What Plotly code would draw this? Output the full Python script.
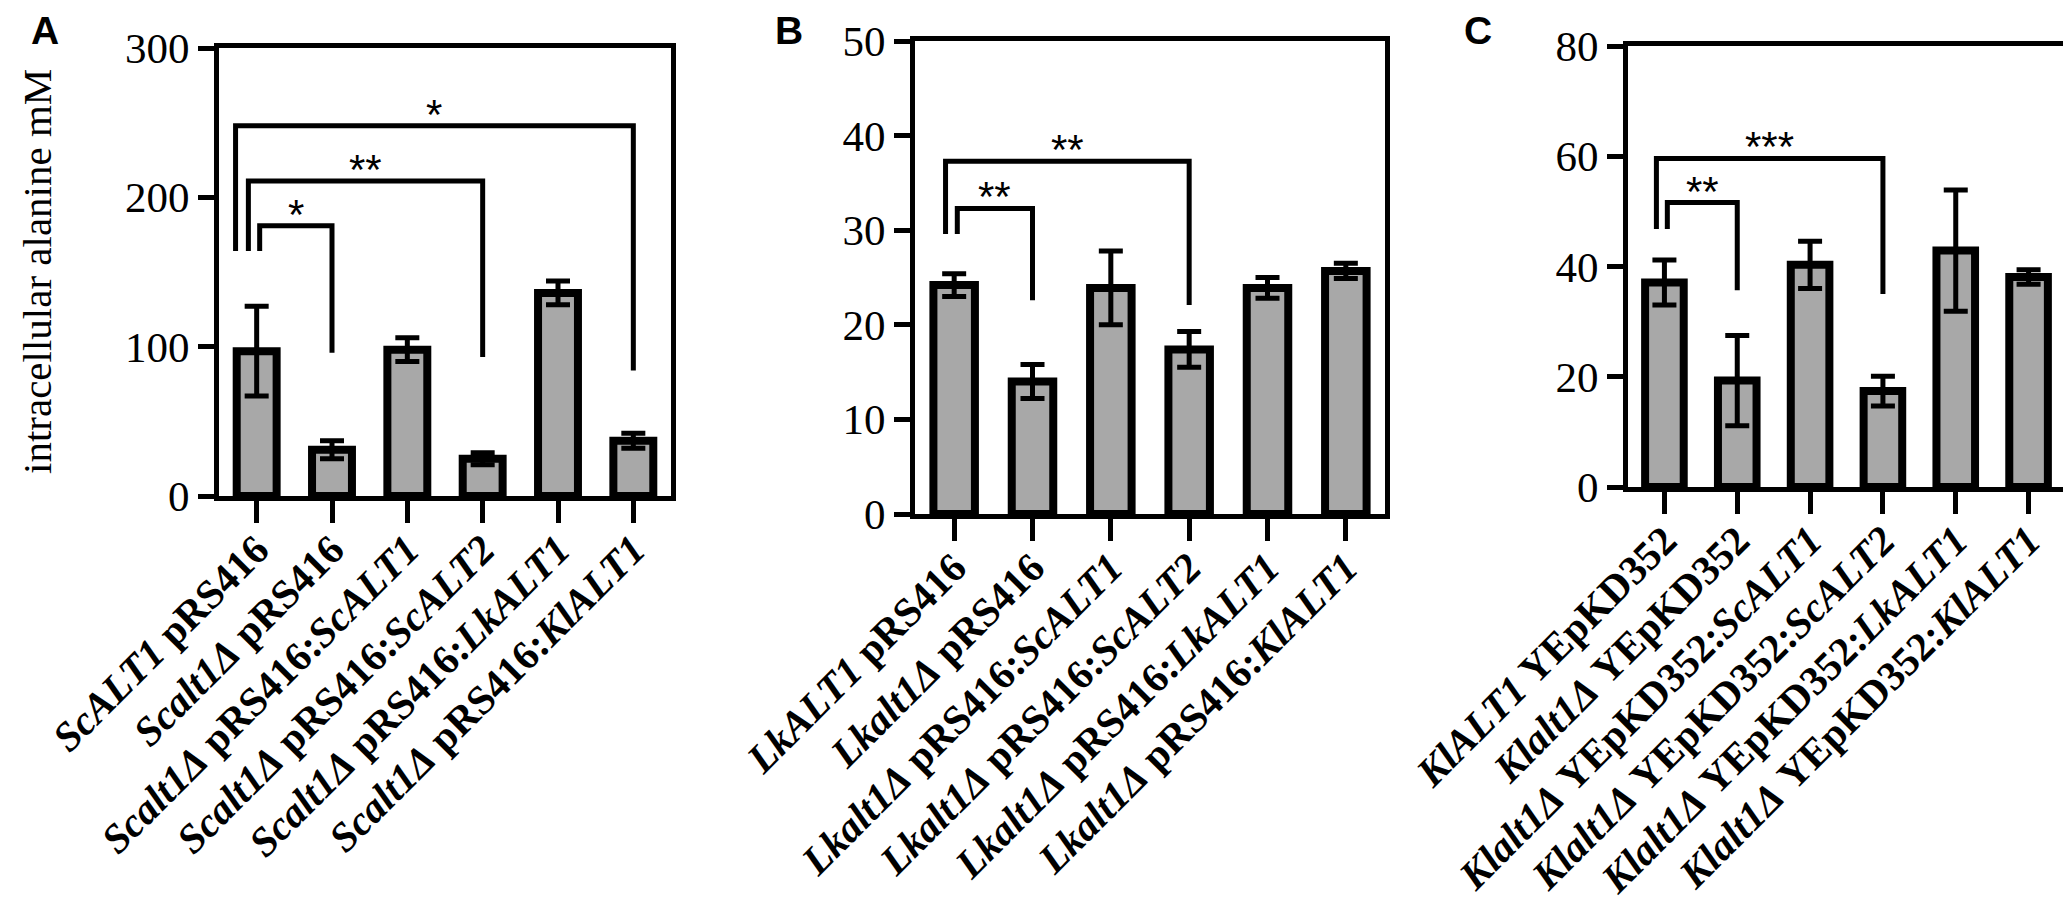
import plotly.graph_objects as go

W, H = 2071, 916

# ---- data ----
a_labels = ["<b><i>ScALT1</i> pRS416</b>",
            "<b><i>Scalt1Δ</i> pRS416</b>",
            "<b><i>Scalt1Δ</i> pRS416:<i>ScALT1</i></b>",
            "<b><i>Scalt1Δ</i> pRS416:<i>ScALT2</i></b>",
            "<b><i>Scalt1Δ</i> pRS416:<i>LkALT1</i></b>",
            "<b><i>Scalt1Δ</i> pRS416:<i>KlALT1</i></b>"]
a_means = [97, 31, 98, 25, 136, 37]
a_err = [30, 6, 8, 4, 8, 5]

b_labels = ["<b><i>LkALT1</i> pRS416</b>",
            "<b><i>Lkalt1Δ</i> pRS416</b>",
            "<b><i>Lkalt1Δ</i> pRS416:<i>ScALT1</i></b>",
            "<b><i>Lkalt1Δ</i> pRS416:<i>ScALT2</i></b>",
            "<b><i>Lkalt1Δ</i> pRS416:<i>LkALT1</i></b>",
            "<b><i>Lkalt1Δ</i> pRS416:<i>KlALT1</i></b>"]
b_means = [24.2, 14.0, 23.9, 17.4, 23.9, 25.7]
b_err = [1.2, 1.8, 3.9, 1.9, 1.1, 0.8]

c_labels = ["<b><i>KlALT1</i> YEpKD352</b>",
            "<b><i>Klalt1Δ</i> YEpKD352</b>",
            "<b><i>Klalt1Δ</i> YEpKD352:<i>ScALT1</i></b>",
            "<b><i>Klalt1Δ</i> YEpKD352:<i>ScALT2</i></b>",
            "<b><i>Klalt1Δ</i> YEpKD352:<i>LkALT1</i></b>",
            "<b><i>Klalt1Δ</i> YEpKD352:<i>KlALT1</i></b>"]
c_means = [37.1, 19.3, 40.3, 17.4, 42.9, 38.1]
c_err = [4.1, 8.2, 4.3, 2.7, 11.0, 1.3]

# significance brackets: compared groups, bracket height, leg ends, stars
a_sig_right = [1, 3, 5]
a_sig_top = [181, 211, 248]
a_sig_left_end = [164, 164, 164]
a_sig_right_end = [96, 93, 84]
a_sig_text = ["*", "**", "*"]

b_sig_right = [1, 3]
b_sig_top = [32.3, 37.3]
b_sig_left_end = [29.6, 29.6]
b_sig_right_end = [22.6, 22.1]
b_sig_text = ["**", "**"]

c_sig_right = [1, 3]
c_sig_top = [51.6, 59.6]
c_sig_left_end = [46.8, 46.8]
c_sig_right_end = [35.7, 35.0]
c_sig_text = ["**", "***"]

# ---- layout helpers (pixel boxes of each plot area) ----
panels = [
    dict(letter="A", labels=a_labels, means=a_means, err=a_err,
         sig=(a_sig_right, a_sig_top, a_sig_left_end, a_sig_right_end, a_sig_text),
         ymax=300, dtick=100, box=(211, 663, 40, 488), letter_xy=(37, 23)),
    dict(letter="B", labels=b_labels, means=b_means, err=b_err,
         sig=(b_sig_right, b_sig_top, b_sig_left_end, b_sig_right_end, b_sig_text),
         ymax=50, dtick=10, box=(907, 1377, 33, 506), letter_xy=(781, 23)),
    dict(letter="C", labels=c_labels, means=c_means, err=c_err,
         sig=(c_sig_right, c_sig_top, c_sig_left_end, c_sig_right_end, c_sig_text),
         ymax=80, dtick=20, box=(1620, 2057, 38, 479), letter_xy=(1470, 23)),
]

leg_shift = [0.04, -0.11, -0.28]
serif = "Liberation Serif, Times New Roman, serif"
sans = "Liberation Sans, Arial, sans-serif"

fig = go.Figure()
layout = dict(width=W, height=H, margin=dict(l=0, r=0, t=0, b=0),
              paper_bgcolor="white", plot_bgcolor="white", showlegend=False)
annotations = []

for i, p in enumerate(panels, start=1):
    xa = "x" if i == 1 else f"x{i}"
    ya = "y" if i == 1 else f"y{i}"
    n = len(p["means"])
    x0, x1, y0, y1 = p["box"]

    fig.add_trace(go.Bar(
        x=list(range(n)), y=p["means"], xaxis=xa, yaxis=ya, width=0.53,
        marker=dict(color="#a8a8a8", line=dict(color="black", width=8)),
        error_y=dict(type="data", array=p["err"], visible=True,
                     color="black", thickness=5, width=12),
        hoverinfo="skip"))

    rights, tops, lends, rends, texts = p["sig"]
    for k in range(len(rights)):
        lx = 0 + leg_shift[k]
        rx = rights[k]
        fig.add_trace(go.Scatter(
            x=[lx, lx, rx, rx], y=[lends[k], tops[k], tops[k], rends[k]],
            mode="lines", line=dict(color="black", width=5),
            xaxis=xa, yaxis=ya, hoverinfo="skip"))
        annotations.append(dict(
            x=(lx + rx) / 2, y=tops[k], xref=xa, yref=ya, text=texts[k],
            showarrow=False, yanchor="bottom", yshift=-14,
            font=dict(family=sans, size=42, color="black")))

    key = "" if i == 1 else str(i)
    layout["xaxis" + key] = dict(
        domain=[x0 / W, x1 / W], anchor=ya, range=[-0.5, n - 0.5],
        automargin=False,
        showline=True, linewidth=5, linecolor="black", mirror=True,
        ticks="outside", ticklen=22, tickwidth=5, tickcolor="black",
        tickvals=list(range(n)), ticktext=p["labels"], tickangle=-45,
        ticklabelstandoff=-14,
        tickfont=dict(family=serif, size=41, color="black"),
        showgrid=False, zeroline=False, fixedrange=True)
    layout["yaxis" + key] = dict(
        domain=[1 - y1 / H, 1 - y0 / H], anchor=xa, range=[0, p["ymax"]],
        automargin=False,
        dtick=p["dtick"], showline=True, linewidth=5, linecolor="black",
        mirror=True, ticks="outside", ticklen=16, tickwidth=5,
        tickcolor="black", tickfont=dict(family=serif, size=43, color="black"),
        showgrid=False, zeroline=False, fixedrange=True)

    lx_, ly_ = p["letter_xy"]
    annotations.append(dict(
        x=lx_ / W, y=1 - ly_ / H, xref="paper", yref="paper", text="<b>%s</b>" % p["letter"],
        showarrow=False, xanchor="center", yanchor="middle",
        font=dict(family=sans, size=39, color="black")))

annotations.append(dict(
    x=29 / W, y=1 - 264 / H, xref="paper", yref="paper",
    text="intracellular alanine mM", textangle=-90, showarrow=False,
    xanchor="center", yanchor="middle",
    font=dict(family=serif, size=41, color="black")))

layout["annotations"] = annotations
fig.update_layout(**layout)
fig.write_html("out.html")
